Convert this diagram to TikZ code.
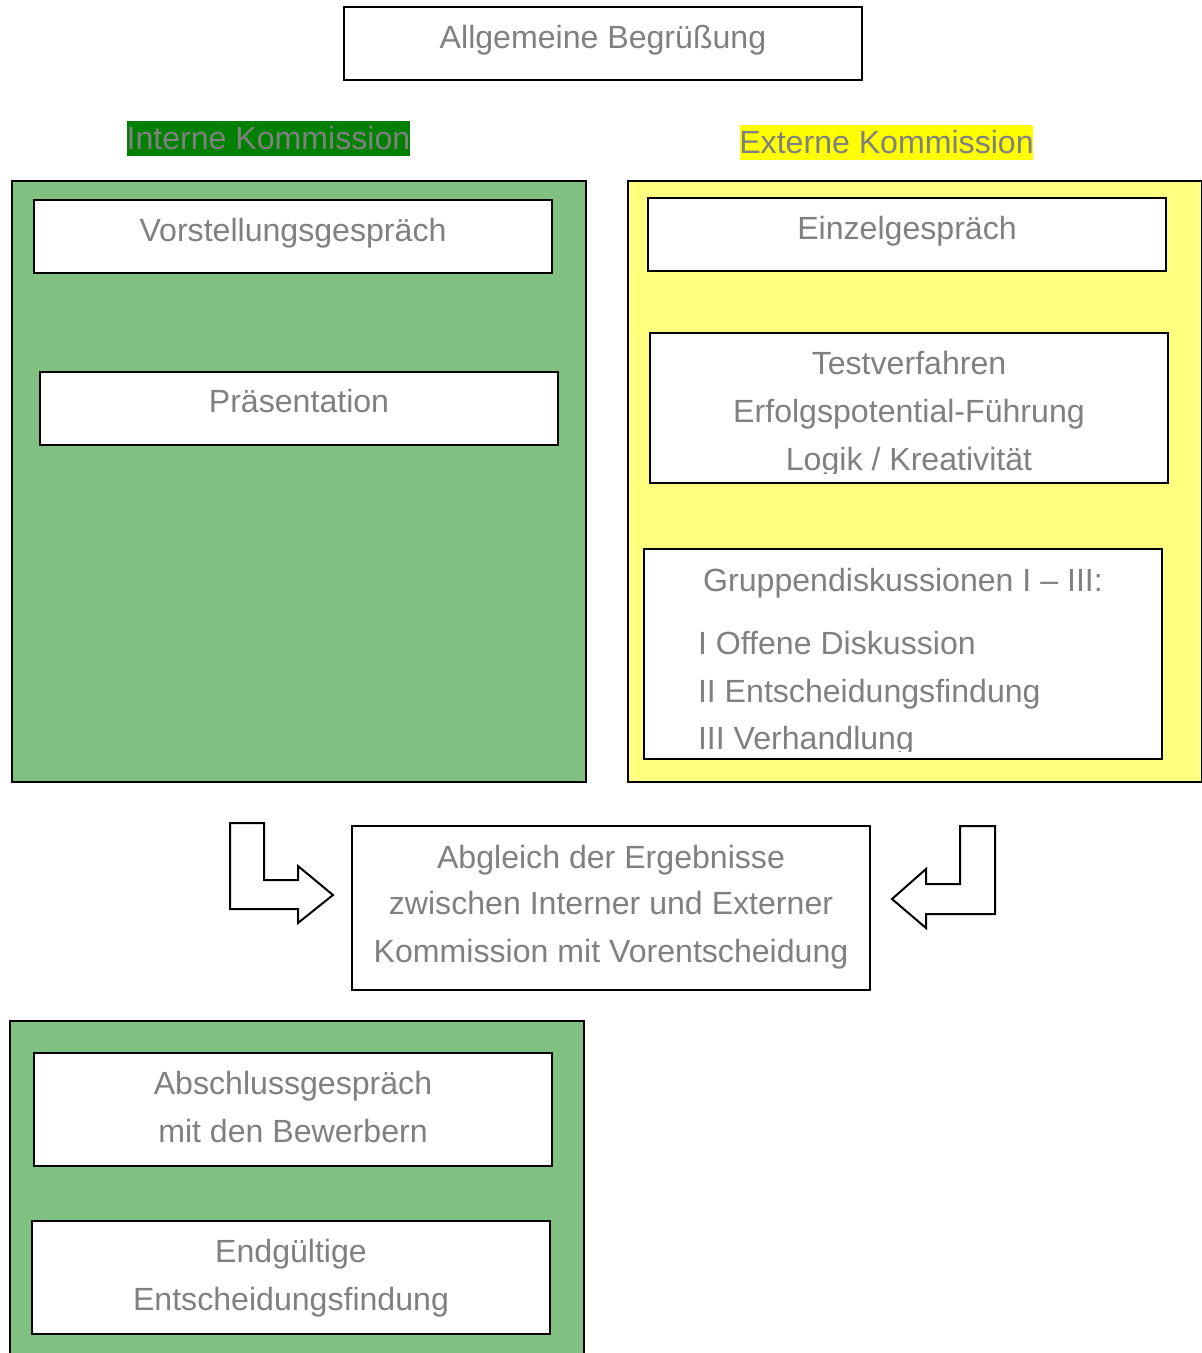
\documentclass[tikz,border=0pt]{standalone}
\usepackage{fontspec}
\setmainfont{Liberation Sans}
\definecolor{txt}{HTML}{808080}
\definecolor{lgreen}{HTML}{80C080}
\definecolor{dgreen}{HTML}{008000}
\definecolor{lyellow}{HTML}{FFFF80}
\definecolor{byellow}{HTML}{FFFF00}
\begin{document}
\begin{tikzpicture}[x=1pt,y=-1pt,line width=2pt,
  panel/.style={draw=black,anchor=north west,inner sep=0pt,outer sep=0pt},
  wbox/.style={draw=black,fill=white,anchor=north west,inner sep=0pt,outer sep=0pt},
  lbl/.style={text=txt,font=\fontsize{32.1}{38}\selectfont,anchor=base,inner sep=0pt},
  titlebg/.style={anchor=north west,inner sep=0pt,outer sep=0pt,draw=none},
  blockarrow/.style={draw=black,fill=white,line join=miter}]
\useasboundingbox (0,0) rectangle (1202,1353);
\fill[white] (0,0) rectangle (1202,1353);
% top
\node[wbox,minimum width=518pt,minimum height=73pt] (top) at (344,7) {};
\node[lbl] (toptxt) at (603,48) {Allgemeine Begrüßung};
% titles
\node[titlebg,fill=dgreen,minimum width=283pt,minimum height=35pt] (intbg) at (127,121) {};
\node[lbl] (inttxt) at (268.5,149.5) {Interne Kommission};
\node[titlebg,fill=byellow,minimum width=293pt,minimum height=35pt] (extbg) at (740,125) {};
\node[lbl] (exttxt) at (886.5,153.5) {Externe Kommission};
% panels
\node[panel,fill=lgreen,minimum width=574pt,minimum height=601pt] (gpanel) at (12,181) {};
\node[panel,fill=lyellow,minimum width=574pt,minimum height=601pt] (ypanel) at (628,181) {};
\node[panel,fill=lgreen,minimum width=574pt,minimum height=345pt] (gpanel2) at (10,1021) {};
% left boxes
\node[wbox,minimum width=518pt,minimum height=73pt] (vorst) at (34,200) {};
\node[lbl] (vorsttxt) at (293,241) {Vorstellungsgespräch};
\node[wbox,minimum width=518pt,minimum height=73pt] (praes) at (40,372) {};
\node[lbl] (praestxt) at (299,412) {Präsentation};
% right boxes
\node[wbox,minimum width=518pt,minimum height=73pt] (einzel) at (648,198) {};
\node[lbl] (einzeltxt) at (907,239) {Einzelgespräch};
\node[wbox,minimum width=518pt,minimum height=150pt] (test) at (650,333) {};
\begin{scope}
\clip (651,334) rectangle (1167,473);
\node[lbl] (testa) at (909,374) {Testverfahren};
\node[lbl] (testb) at (909,422) {Erfolgspotential-Führung};
\node[lbl] (testc) at (909,470) {Logik / Kreativität};
\end{scope}
\node[wbox,minimum width=518pt,minimum height=210pt] (grupp) at (644,549) {};
\begin{scope}
\clip (645,550) rectangle (1161,751);
\node[lbl] (gruppa) at (903,591) {Gruppendiskussionen I – III:};
\node[lbl,anchor=base west] (gruppb) at (697,654) {I Offene Diskussion};
\node[lbl,anchor=base west] (gruppc) at (697,702) {II Entscheidungsfindung};
\node[lbl,anchor=base west] (gruppd) at (697,749) {III Verhandlung};
\end{scope}
% arrows
\draw[blockarrow] (230,823) -- (264,823) -- (264,880) -- (298,880) -- (298,866) -- (333,895) -- (298,923) -- (298,909) -- (230,909) -- cycle;
\draw[blockarrow] (995,826) -- (960,826) -- (960,884) -- (926,884) -- (926,869) -- (892,899) -- (926,928) -- (926,914) -- (995,914) -- cycle;
% abgleich
\node[wbox,minimum width=518pt,minimum height=164pt] (abgl) at (352,826) {};
\node[lbl] (abgla) at (611,868) {Abgleich der Ergebnisse};
\node[lbl] (abglb) at (611,914) {zwischen Interner und Externer};
\node[lbl] (abglc) at (611,962) {Kommission mit Vorentscheidung};
% bottom boxes
\node[wbox,minimum width=518pt,minimum height=113pt] (absch) at (34,1053) {};
\node[lbl] (abscha) at (293,1094) {Abschlussgespräch};
\node[lbl] (abschb) at (293,1142) {mit den Bewerbern};
\node[wbox,minimum width=518pt,minimum height=113pt] (endg) at (32,1221) {};
\node[lbl] (endga) at (291,1262) {Endgültige};
\node[lbl] (endgb) at (291,1310) {Entscheidungsfindung};
\end{tikzpicture}
\end{document}
